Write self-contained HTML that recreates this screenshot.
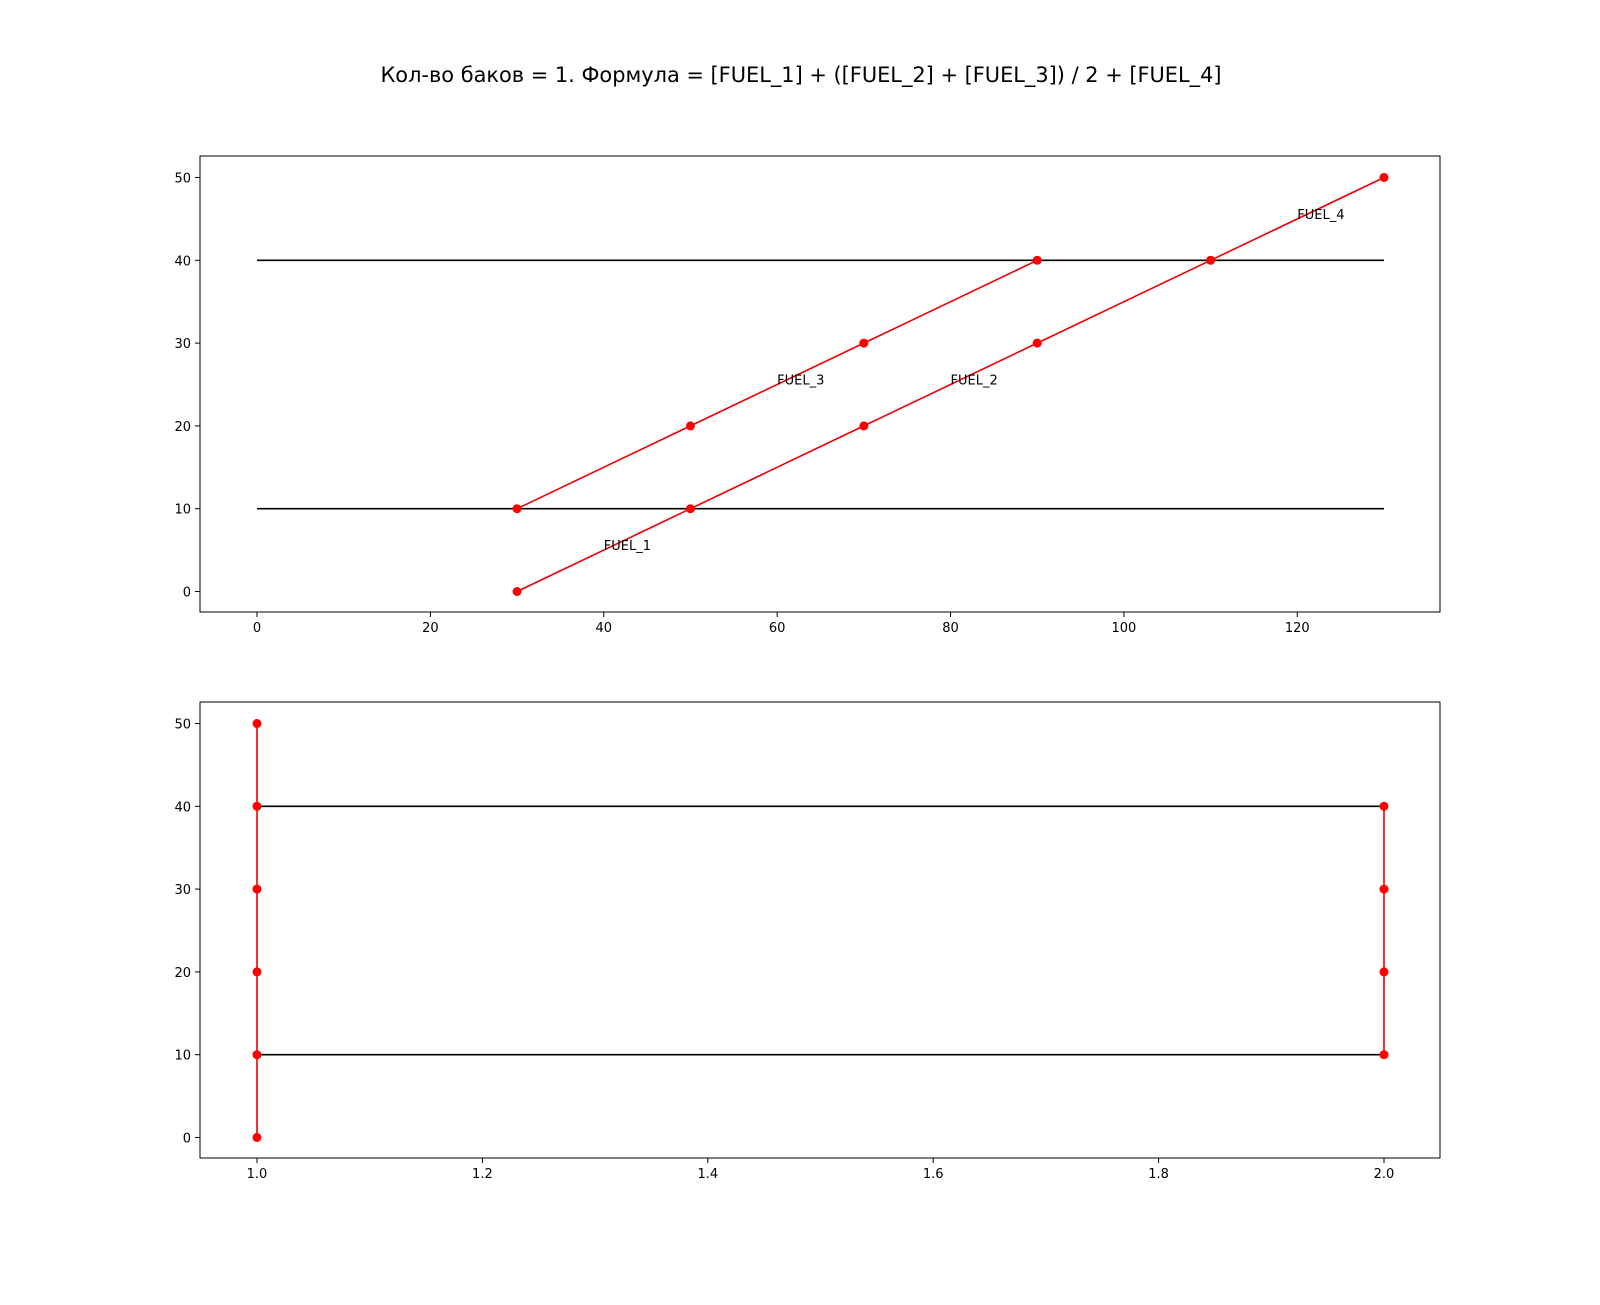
<!DOCTYPE html>
<html><head><meta charset="utf-8"><style>
body{margin:0;background:#fff}
svg{font-family:"DejaVu Sans","Liberation Sans",sans-serif}
</style></head><body>
<svg id="chart" width="1600" height="1300" xmlns="http://www.w3.org/2000/svg">
<text x="801" y="82" font-size="20.9" text-anchor="middle">Кол-во баков = 1. Формула = [FUEL_1] + ([FUEL_2] + [FUEL_3]) / 2 + [FUEL_4]</text>
<g id="top"></g>
<g id="bot"></g>
</svg>
<script>
const topXTicks=[0,20,40,60,80,100,120];
const topYTicks=[0,10,20,30,40,50];
const topLineAX=[30,50,70,90,110,130];
const topLineAY=[0,10,20,30,40,50];
const topLineBX=[30,50,70,90];
const topLineBY=[10,20,30,40];
const topHLines=[10,40];
const topHRange=[0,130];
const labels=["FUEL_1","FUEL_3","FUEL_2","FUEL_4"];
const labelX=[40,60,80,120];
const labelY=[5,25,25,45];
const botXTicks=[1.0,1.2,1.4,1.6,1.8,2.0];
const botYTicks=[0,10,20,30,40,50];
const botLineAX=[1,1,1,1,1,1];
const botLineAY=[0,10,20,30,40,50];
const botLineBX=[2,2,2,2];
const botLineBY=[10,20,30,40];
const botHLines=[10,40];
const botHRange=[1,2];

const NS="http://www.w3.org/2000/svg";
function mk(p,t,a){const e=document.createElementNS(NS,t);for(const k in a)e.setAttribute(k,a[k]);p.appendChild(e);return e;}
function panel(g,top,x0,x1,y0,y1,xt,yt,fmt){
  const L=200,R=1440,T=top,B=top+456;
  const sx=v=>257+(v-x0)/(x1-x0)*1127;
  const sy=v=>B-20.5-(v-y0)/(y1-y0)*414;
  const f=mk(g,'rect',{x:L,y:T,width:R-L,height:B-T,fill:'none',stroke:'#000','stroke-width':1});
  
  
  xt.forEach(v=>{const x=sx(v);mk(g,'line',{x1:x,x2:x,y1:B,y2:B+5,stroke:'#000'});
    const t=mk(g,'text',{x:x,y:B+20,'font-size':13,'text-anchor':'middle'});t.textContent=fmt(v);
    
    });
  yt.forEach(v=>{const y=sy(v);mk(g,'line',{x1:L-5,x2:L,y1:y,y2:y,stroke:'#000'});
    const t=mk(g,'text',{x:L-9,y:y+5,'font-size':13,'text-anchor':'end'});t.textContent=v;
    
    });
  return {sx,sy};
}
function hl(g,s,ys,r){ys.forEach(v=>{const l=mk(g,'line',{x1:s.sx(r[0]),x2:s.sx(r[1]),y1:s.sy(v),y2:s.sy(v),stroke:'#000','stroke-width':1.6});
  
  });}
function series(g,s,xs,ys){
  const p=mk(g,'polyline',{points:xs.map((x,i)=>s.sx(x)+','+s.sy(ys[i])).join(' '),fill:'none',stroke:'#e00','stroke-width':1.6});
  
  
  xs.forEach((x,i)=>{const c=mk(g,'circle',{cx:s.sx(x),cy:s.sy(ys[i]),r:4.5,fill:'#f00'});
    
    });
}
const gt=document.getElementById('top'),gb=document.getElementById('bot');
const st=panel(gt,156,0,130,0,50,topXTicks,topYTicks,v=>v);
hl(gt,st,topHLines,topHRange);
series(gt,st,topLineAX,topLineAY);
series(gt,st,topLineBX,topLineBY);
labels.forEach((l,i)=>{const t=mk(gt,'text',{x:st.sx(labelX[i]),y:st.sy(labelY[i]),'font-size':13});t.textContent=l;
  
  });
const sb=panel(gb,702,1,2,0,50,botXTicks,botYTicks,v=>v.toFixed(1));
hl(gb,sb,botHLines,botHRange);
series(gb,sb,botLineAX,botLineAY);
series(gb,sb,botLineBX,botLineBY);
</script>
</body></html>
